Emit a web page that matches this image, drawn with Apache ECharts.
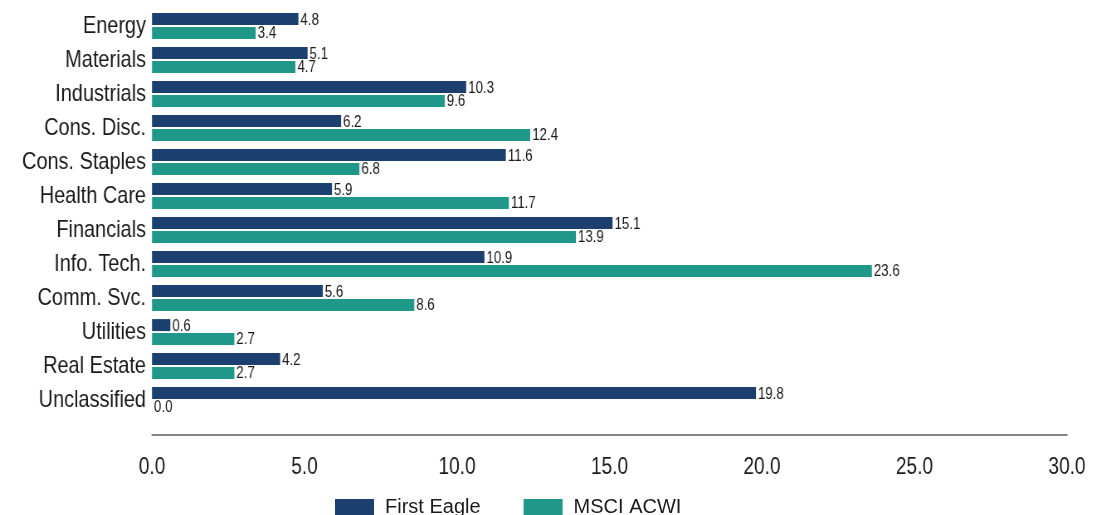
<!DOCTYPE html>
<html>
<head>
<meta charset="utf-8">
<script src="https://cdn.jsdelivr.net/npm/echarts@6/dist/echarts.min.js"></script>
<style>
html,body{margin:0;padding:0;background:#fff;overflow:hidden;width:1106px;height:515px;position:relative;}
#c{position:absolute;left:0;top:0;width:1333px;height:515px;transform:scaleX(0.82971);transform-origin:0 0;}
#lg{position:absolute;left:0;top:485px;width:1106px;height:30px;}
</style>
</head>
<body>
<div id="c"></div>
<div id="lg"></div>
<script>
const categories = ["Energy","Materials","Industrials","Cons. Disc.","Cons. Staples","Health Care","Financials","Info. Tech.","Comm. Svc.","Utilities","Real Estate","Unclassified"];
const firstEagle = [4.8, 5.1, 10.3, 6.2, 11.6, 5.9, 15.1, 10.9, 5.6, 0.6, 4.2, 19.8];
const msciAcwi = [3.4, 4.7, 9.6, 12.4, 6.8, 11.7, 13.9, 23.6, 8.6, 2.7, 2.7, 0.0];
const seriesNames = ["First Eagle", "MSCI ACWI"];
const colors = ['#1b3f6e', '#1f988a'];

const S = 1106 / 1333; // horizontal condensing of the main chart (narrow font look)
const X = v => v / S;
const FONT = "'Liberation Sans', Arial, sans-serif";

const chart = echarts.init(document.getElementById('c'), null, {renderer: 'canvas'});
const labelCfg = {
  show: true, position: 'right', distance: X(2), offset: [0, 1],
  fontFamily: FONT, fontSize: 16, color: '#1a1a1a',
  formatter: p => p.value.toFixed(1)
};
chart.setOption({
  animation: false,
  backgroundColor: '#fff',
  color: colors,
  grid: {left: X(152), right: X(39), top: 9, bottom: 98, containLabel: false},
  xAxis: {
    type: 'value', min: 0, max: 30, interval: 5,
    offset: 18,
    axisLine: {show: true, lineStyle: {color: '#595959', width: 1.5}},
    axisTick: {show: false},
    splitLine: {show: false},
    axisLabel: {fontFamily: FONT, fontSize: 23, color: '#1a1a1a', margin: 21, formatter: v => v.toFixed(1)}
  },
  yAxis: {
    type: 'category', data: categories, inverse: true,
    axisLine: {show: false}, axisTick: {show: false},
    axisLabel: {fontFamily: FONT, fontSize: 24, color: '#1a1a1a', margin: X(6)}
  },
  series: [
    {name: seriesNames[0], type: 'bar', data: firstEagle, barWidth: 12, barGap: '15%',
     itemStyle: {color: colors[0]}, label: labelCfg},
    {name: seriesNames[1], type: 'bar', data: msciAcwi, barWidth: 12, barGap: '15%',
     itemStyle: {color: colors[1]}, label: labelCfg}
  ]
});

// Legend drawn unscaled (regular-width font, as in the reference)
const lg = echarts.init(document.getElementById('lg'), null, {renderer: 'canvas'});
lg.setOption({
  animation: false,
  color: colors,
  grid: {left: 0, right: 0, top: 0, bottom: 0, show: false},
  xAxis: {type: 'value', show: false},
  yAxis: {type: 'category', show: false, data: []},
  legend: {
    left: 335, top: 12, padding: 0,
    itemWidth: 39, itemHeight: 16, itemGap: 43,
    icon: 'rect',
    textStyle: {fontFamily: FONT, fontSize: 20, color: '#1a1a1a', padding: [0,0,0,6]},
    data: seriesNames
  },
  series: seriesNames.map((n, i) => ({name: n, type: 'bar', data: [], itemStyle: {color: colors[i]}}))
});
</script>
</body>
</html>
